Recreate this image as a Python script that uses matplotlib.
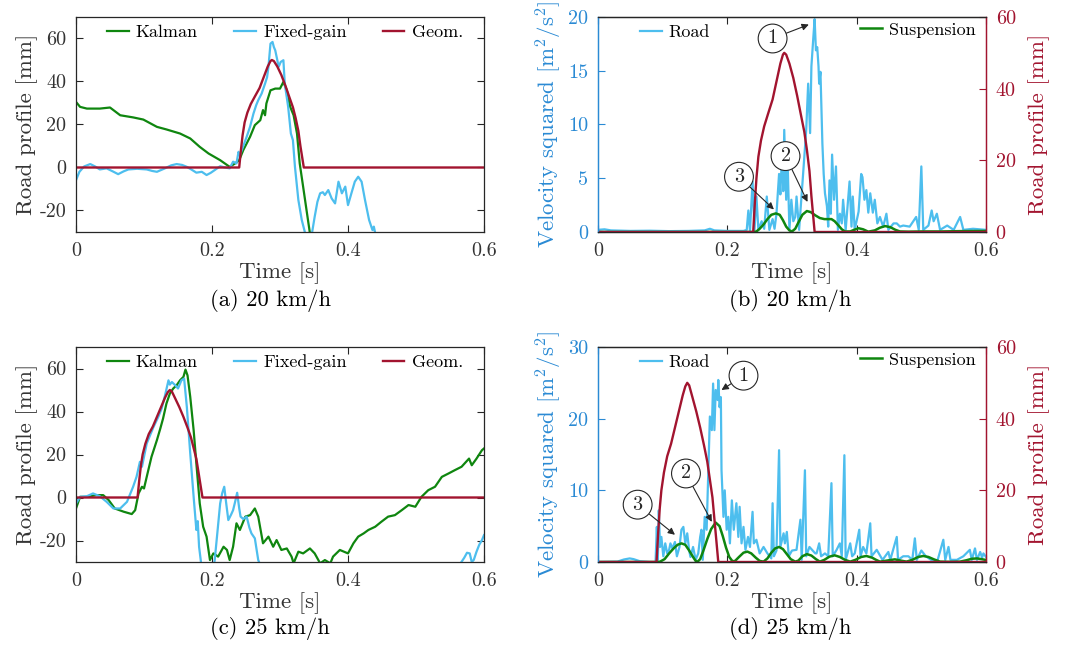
import matplotlib
matplotlib.use('Agg')
import matplotlib.pyplot as plt
import numpy as np

plt.rcParams['font.family'] = ['cmr10', 'DejaVu Serif']
plt.rcParams['mathtext.fontset'] = 'cm'
plt.rcParams['axes.unicode_minus'] = False
plt.rcParams['axes.formatter.use_mathtext'] = True

green = '#0f860f'
blue = '#4dbeee'
red = '#a2142f'
vblue = '#2a8ad4'
dark = '#262626'
txtc = '#333333'
nan = np.nan

# ---------------- data (time [s], value) ----------------
# (a) 20 km/h road profile [mm]
kalman_20 = [(0, 30.5), (0.006, 28.2), (0.016, 27.4), (0.035, 27.4), (0.050, 27.9), (0.065, 24.3),
             (0.084, 23.3), (0.099, 22.3), (0.119, 18.9), (0.133, 17.7), (0.153, 15.8), (0.168, 13.5),
             (0.182, 9.6), (0.195, 6.5), (0.212, 3.4), (0.226, 0.3), (0.234, 1.9), (0.240, 3.4),
             (0.246, 8.1), (0.256, 14.3), (0.263, 19.7), (0.271, 22.0), (0.275, 26.7), (0.278, 24.3),
             (0.280, 29.8), (0.286, 35.9), (0.293, 36.7), (0.300, 36.7), (0.305, 39.8), (0.310, 35.9),
             (0.315, 28.2), (0.320, 24.3), (0.325, 15.8), (0.329, 1.9), (0.334, -8.9), (0.339, -19.8),
             (0.344, -30.6), (0.350, -40)]
fixed_20 = [(0, -5.9), (0.005, -2), (0.012, 0.5), (0.021, 1.6), (0.028, 0.5), (0.035, -0.9), (0.045, -0.4),
            (0.054, -1.8), (0.062, -3.1), (0.070, -1.8), (0.077, -0.9), (0.090, -0.6), (0.104, -0.9),
            (0.112, -1.6), (0.119, -2.0), (0.130, -0.5), (0.140, 1.0), (0.148, 1.6), (0.156, 1.2),
            (0.163, 0.3), (0.170, -1.0), (0.177, -2.4), (0.185, -2.0), (0.192, -3.5), (0.198, -2.5),
            (0.204, -1.2), (0.212, 0.6), (0.219, 0.0), (0.226, -0.4), (0.231, 2.7), (0.236, 1.9),
            (0.239, 7.3), (0.241, 5.8), (0.246, 10), (0.251, 14.3), (0.256, 19), (0.261, 25.1),
            (0.265, 29), (0.268, 31.3), (0.273, 34.4), (0.278, 39), (0.281, 42), (0.283, 46.8),
            (0.286, 57.6), (0.289, 58.4), (0.291, 56), (0.293, 54.5), (0.296, 50), (0.298, 46.8),
            (0.301, 49.1), (0.305, 49.9), (0.307, 39), (0.312, 28.2), (0.316, 15.8), (0.319, 12.7),
            (0.322, 0.3), (0.327, -15.1), (0.332, -24.4), (0.337, -30.6), (0.341, -34), (0.345, -34),
            (0.347, -30.6), (0.351, -22.9), (0.355, -16), (0.359, -12), (0.363, -11.5), (0.366, -12.8),
            (0.371, -10.5), (0.376, -14.4), (0.381, -16.7), (0.386, -6.6), (0.391, -12), (0.396, -8.9),
            (0.400, -17.5), (0.405, -12), (0.410, -6.6), (0.415, -4.3), (0.420, -6.6), (0.425, -15.1),
            (0.431, -24.4), (0.436, -29.1), (0.438, -27.5), (0.441, -32)]
geom_20 = [(0, 0), (0.240, 0), (0.2425, 8), (0.245, 15), (0.248, 21), (0.252, 25.5), (0.257, 29.5),
           (0.263, 33), (0.270, 37), (0.276, 42), (0.282, 47), (0.286, 49.5), (0.288, 50), (0.291, 49.5),
           (0.296, 47), (0.302, 43), (0.308, 38), (0.314, 32.5), (0.319, 28), (0.323, 23), (0.327, 17),
           (0.330, 10), (0.333, 4), (0.335, 0), (0.6, 0)]

# (c) 25 km/h road profile [mm]
kalman_25 = [(0, -5.1), (0.006, 0.3), (0.016, 0.3), (0.030, 1.1), (0.040, 1.1), (0.048, -1.2), (0.057, -5.1),
             (0.070, -6.6), (0.082, -7.7), (0.087, -5.9), (0.092, 1.9), (0.097, 5.0), (0.100, 4.2),
             (0.104, 9.6), (0.111, 18.9), (0.119, 26.7), (0.124, 32.1), (0.128, 36.7), (0.133, 43.7),
             (0.138, 48.3), (0.143, 50.7), (0.148, 52.2), (0.153, 54.5), (0.158, 56.1), (0.161, 59.5),
             (0.164, 56.8), (0.168, 46.8), (0.173, 31.3), (0.177, 15.8), (0.182, -2.8), (0.187, -13.6),
             (0.192, -18.2), (0.197, -29.1), (0.202, -26.0), (0.209, -27.5), (0.217, -22.9), (0.222, -24.4),
             (0.226, -29.1), (0.231, -22.9), (0.236, -12.0), (0.241, -15.1), (0.249, -8.9), (0.256, -8.2),
             (0.263, -5.1), (0.268, -8.9), (0.275, -21.3), (0.283, -18.2), (0.290, -22.9), (0.295, -19.8),
             (0.302, -24.4), (0.310, -23.7), (0.317, -27.5), (0.320, -30.6), (0.327, -25.2), (0.334, -26.0),
             (0.344, -23.7), (0.351, -26.0), (0.359, -30.6), (0.366, -29.1), (0.374, -30.6), (0.378, -27.5),
             (0.388, -24.4), (0.400, -26.0), (0.408, -21.3), (0.415, -18.2), (0.423, -16.7), (0.430, -15.1),
             (0.440, -13.6), (0.449, -11.3), (0.459, -8.9), (0.469, -8.2), (0.479, -5.9), (0.489, -3.5),
             (0.499, -4.3), (0.508, 0.3), (0.518, 3.4), (0.528, 5.0), (0.538, 9.6), (0.548, 11.2),
             (0.557, 12.7), (0.567, 14.3), (0.578, 18.1), (0.582, 15.0), (0.589, 18.1), (0.597, 22.0),
             (0.600, 22.8)]
fixed_25 = [(0, -2.8), (0.006, 0.3), (0.016, 0.6), (0.025, 1.9), (0.035, 0.6), (0.045, -2.0), (0.055, -5.1),
            (0.065, -5.1), (0.075, -2.0), (0.084, 5.0), (0.089, 9.6), (0.094, 16.6), (0.097, 14.3),
            (0.104, 25.1), (0.109, 29), (0.114, 32.8), (0.121, 37.5), (0.126, 41.4), (0.131, 47.6),
            (0.136, 54.5), (0.138, 52.5), (0.141, 53.7), (0.146, 52.2), (0.150, 50.7), (0.155, 54.5),
            (0.159, 55.3), (0.163, 42.1), (0.168, 20.5), (0.173, 0.3), (0.177, -15.1), (0.179, -11),
            (0.181, -22.9), (0.184, -30.6), (0.190, -36), (0.200, -36), (0.204, -29.1), (0.208, -16),
            (0.212, -2.8), (0.215, 2), (0.218, 5.0), (0.221, -3), (0.224, -10.5), (0.228, -8), (0.231, -5.9),
            (0.234, -2), (0.237, 2.2), (0.240, -5), (0.242, -8.9), (0.246, -10), (0.251, -8.9), (0.255, -14),
            (0.258, -16.7), (0.263, -19.0), (0.268, -29.1), (0.271, -31.4), (0.274, -34), (0.4, nan),
            (0.560, -33), (0.567, -29.9), (0.571, -28), (0.575, -25.7), (0.579, -26.0), (0.582, -30.0),
            (0.585, -29), (0.589, -25.2), (0.593, -22), (0.597, -19.8), (0.600, -17.5)]
geom_25 = [(0, 0), (0.0905, 0), (0.093, 8), (0.0955, 15), (0.098, 20), (0.102, 25), (0.107, 29.5),
           (0.113, 33), (0.119, 37.5), (0.125, 42), (0.131, 46.5), (0.135, 49), (0.138, 50), (0.141, 49.3),
           (0.146, 46), (0.152, 42), (0.158, 37.5), (0.164, 32.5), (0.169, 28), (0.173, 23), (0.177, 18),
           (0.180, 12), (0.183, 6), (0.186, 0), (0.6, 0)]

# (b) 20 km/h velocity squared [m^2/s^2]
road_20 = [(0, 0.2), (0.01, 0.25), (0.02, 0.15), (0.05, 0.1), (0.08, 0.12), (0.11, 0.08), (0.14, 0.1),
           (0.165, 0.15), (0.173, 0.3), (0.18, 0.15), (0.2, 0.1), (0.225, 0.1), (0.23, 0.2), (0.2325, 2.0),
           (0.235, 0.1), (0.239, 4.7), (0.242, 0.2), (0.245, 3.3), (0.248, 0.2), (0.253, 1.0), (0.257, 0.3),
           (0.261, 3.3), (0.265, 0.2), (0.270, 1.2), (0.273, 0.3), (0.276, 1.7), (0.280, 5.4), (0.282, 3.5),
           (0.285, 7.9), (0.2865, 3.8), (0.288, 9.5), (0.291, 3.0), (0.293, 7.0), (0.296, 0.2), (0.299, 3.0),
           (0.302, 1.0), (0.305, 1.4), (0.307, 3.3), (0.311, 0.2), (0.318, 6.1), (0.322, 9.5), (0.325, 13.8),
           (0.328, 9.2), (0.330, 15.4), (0.333, 18.1), (0.335, 19.8), (0.337, 16.9), (0.339, 17.2),
           (0.341, 15.4), (0.342, 13.8), (0.344, 14.9), (0.347, 8.2), (0.349, 5.4), (0.351, 3.6),
           (0.354, 2.4), (0.356, 0.5), (0.358, 4.8), (0.360, 1.7), (0.362, 7.2), (0.365, 3.0), (0.368, 6.1),
           (0.371, 0.2), (0.374, 1.7), (0.377, 0.8), (0.379, 3.0), (0.383, 0.2), (0.389, 4.7), (0.392, 0.5),
           (0.394, 3.3), (0.397, 0.2), (0.403, 1.9), (0.407, 5.4), (0.409, 5.1), (0.412, 3.0), (0.415, 3.9),
           (0.418, 1.8), (0.421, 3.6), (0.425, 1.8), (0.428, 3.0), (0.432, 0.8), (0.436, 1.4), (0.441, 0.5),
           (0.446, 1.7), (0.449, 0.2), (0.457, 0.8), (0.462, 0.8), (0.467, 0.5), (0.472, 0.6), (0.482, 0.5),
           (0.492, 1.4), (0.496, 0.2), (0.500, 6.1), (0.503, 0.2), (0.511, 0.6), (0.516, 2.0), (0.519, 1.0),
           (0.524, 1.7), (0.529, 0.2), (0.540, 0.6), (0.550, 0.2), (0.560, 1.4), (0.565, 0.2), (0.580, 0.3),
           (0.6, 0.2)]
susp_20 = [(0, 0), (0.24, 0), (0.245, 0.05), (0.250, 0.3), (0.256, 0.7), (0.262, 1.2), (0.268, 1.6),
           (0.275, 1.73), (0.281, 1.6), (0.286, 1.1), (0.291, 0.5), (0.296, 0.15), (0.300, 0.05),
           (0.305, 0.3), (0.310, 0.9), (0.316, 1.6), (0.323, 1.95), (0.329, 1.85), (0.336, 1.55),
           (0.343, 1.3), (0.350, 1.2), (0.356, 1.2), (0.361, 1.2), (0.366, 1.0), (0.372, 0.6), (0.377, 0.25),
           (0.382, 0.05), (0.390, 0.05), (0.396, 0.2), (0.403, 0.35), (0.410, 0.25), (0.418, 0.03),
           (0.428, 0.15), (0.436, 0.4), (0.444, 0.55), (0.452, 0.45), (0.460, 0.2), (0.467, 0.05),
           (0.480, 0.03), (0.500, 0.05), (0.530, 0.05), (0.560, 0.08), (0.6, 0.1)]

# (d) 25 km/h velocity squared [m^2/s^2]
road_25 = [(0, 0), (0.03, 0.05), (0.04, 0.35), (0.049, 0.5), (0.055, 0.4), (0.065, 0.1), (0.08, 0), (0.089, 0),
           (0.091, 4.9), (0.0925, 0.3), (0.094, 7.2), (0.096, 2.1), (0.098, 3.5), (0.101, 0.8), (0.104, 2.6),
           (0.107, 1.2), (0.110, 1.7), (0.112, 2.6), (0.115, 1.9), (0.119, 2.8), (0.122, 0.8), (0.126, 2.1),
           (0.129, 4.5), (0.132, 4.9), (0.135, 2.6), (0.138, 4.0), (0.141, 1.6), (0.143, 0.7), (0.147, 2.1),
           (0.151, 0.3), (0.155, 1.2), (0.158, 3.5), (0.160, 4.5), (0.162, 0.3), (0.165, 6.3), (0.168, 4.5),
           (0.171, 13.7), (0.173, 20.3), (0.176, 18.4), (0.178, 24.9), (0.180, 18.4), (0.182, 24.0),
           (0.185, 22.6), (0.186, 25.4), (0.188, 21.6), (0.190, 23.0), (0.191, 12.8), (0.194, 6.3),
           (0.196, 10.0), (0.199, 4.5), (0.2015, 6.3), (0.204, 2.6), (0.207, 8.6), (0.210, 4.5), (0.212, 6.3),
           (0.214, 8.2), (0.217, 3.5), (0.219, 7.7), (0.222, 2.6), (0.225, 4.9), (0.228, 1.7), (0.232, 3.5),
           (0.235, 2.1), (0.239, 7.0), (0.241, 2.6), (0.245, 3.1), (0.250, 1.2), (0.256, 2.1), (0.262, 1.2),
           (0.268, 0.5), (0.270, 8.2), (0.272, 0.8), (0.276, 1.6), (0.280, 15.6), (0.282, 2.1), (0.287, 4.0),
           (0.289, 2.6), (0.292, 4.2), (0.295, 0.8), (0.300, 1.6), (0.307, 1.7), (0.313, 5.9), (0.315, 0.3),
           (0.320, 12.8), (0.322, 0.8), (0.327, 2.1), (0.331, 1.7), (0.336, 1.2), (0.338, 1.2), (0.342, 2.6),
           (0.345, 0.8), (0.351, 1.2), (0.356, 0.8), (0.361, 11.0), (0.363, 0.8), (0.369, 1.7), (0.374, 2.6),
           (0.377, 0.8), (0.381, 14.9), (0.383, 0.3), (0.390, 2.6), (0.393, 0.8), (0.397, 1.2), (0.404, 4.5),
           (0.406, 0.8), (0.410, 2.1), (0.415, 1.2), (0.421, 5.4), (0.423, 0.8), (0.431, 1.7), (0.440, 0.3),
           (0.449, 1.4), (0.452, 0.3), (0.462, 3.5), (0.464, 0.3), (0.472, 0.8), (0.480, 0.8), (0.486, 0.3),
           (0.490, 3.3), (0.493, 0.3), (0.500, 1.6), (0.507, 0.8), (0.515, 0.3), (0.525, 0.2), (0.534, 3.1),
           (0.537, 0.3), (0.542, 2.1), (0.545, 0.3), (0.555, 0.3), (0.565, 0.8), (0.575, 1.7), (0.578, 0.3),
           (0.583, 1.9), (0.586, 0.3), (0.591, 1.4), (0.594, 0.6), (0.596, 1.2), (0.6, 0.7)]
susp_25 = [(0, 0), (0.09, 0), (0.096, 0.05), (0.103, 0.4), (0.110, 1.2), (0.117, 1.9), (0.123, 2.4),
           (0.129, 2.6), (0.135, 2.4), (0.141, 1.6), (0.147, 0.7), (0.151, 0.15), (0.154, 0.05), (0.158, 0.4),
           (0.163, 1.6), (0.169, 3.2), (0.175, 4.6), (0.182, 5.5), (0.188, 5.0), (0.193, 3.6), (0.198, 2.0),
           (0.203, 0.7), (0.208, 0.1), (0.212, 0.15), (0.218, 0.7), (0.225, 1.3), (0.231, 1.45), (0.237, 1.2),
           (0.244, 0.6), (0.250, 0.15), (0.256, 0.05), (0.262, 0.5), (0.268, 1.3), (0.274, 1.9), (0.280, 2.1),
           (0.286, 1.8), (0.292, 1.1), (0.298, 0.4), (0.305, 0.05), (0.310, 0.2), (0.316, 0.8), (0.323, 1.1),
           (0.330, 0.9), (0.337, 0.4), (0.343, 0.05), (0.350, 0.3), (0.358, 0.75), (0.366, 0.93), (0.374, 0.7),
           (0.382, 0.3), (0.390, 0.05), (0.398, 0.3), (0.407, 0.7), (0.415, 0.84), (0.424, 0.6), (0.430, 0.3),
           (0.436, 0.05), (0.447, 0.2), (0.459, 0.37), (0.468, 0.2), (0.477, 0.05), (0.486, 0.3), (0.495, 0.7),
           (0.503, 0.84), (0.511, 0.7), (0.520, 0.35), (0.529, 0.05), (0.545, 0.02), (0.560, 0.05),
           (0.570, 0.25), (0.578, 0.45), (0.586, 0.5), (0.593, 0.4), (0.6, 0.28)]

# numbered callouts: label, circle centre (t, v), arrow tip (t, v) in velocity-squared units
notes_20 = [('1', (0.270, 18.0), (0.326, 19.3)), ('2', (0.290, 7.06), (0.324, 2.8)),
            ('3', (0.218, 5.14), (0.272, 2.1))]
notes_25 = [('1', (0.225, 26.0), (0.191, 24.0)), ('2', (0.136, 12.35), (0.176, 5.6)),
            ('3', (0.0613, 8.0), (0.119, 3.8))]

time_ticks = [0, 0.2, 0.4, 0.6]
time_labels = ['0', '0.2', '0.4', '0.6']
profile_ticks = [-20, 0, 20, 40, 60]
profile_labels = ['-20', '0', '20', '40', '60']
right_ticks = [0, 20, 40, 60]
left_ticks_20 = [0, 5, 10, 15, 20]
left_ticks_25 = [0, 10, 20, 30]
captions = ['(a) 20 km/h', '(b) 20 km/h', '(c) 25 km/h', '(d) 25 km/h']

LAB = 16.5
TICK = 14.5
LEG = 13


def xy(pairs):
    a = np.array(pairs, dtype=float)
    return a[:, 0], a[:, 1]


W, H = 1067, 652
fig = plt.figure(figsize=(W / 100, H / 100), dpi=100)


def box(l, t, r, b):
    return [l / W, 1 - b / H, (r - l) / W, (b - t) / H]


def style_time(ax):
    ax.set_xlim(0, 0.6)
    ax.set_xticks(time_ticks)
    ax.set_xticklabels(time_labels)
    ax.set_xlabel('Time [s]', fontsize=LAB, labelpad=2, color=txtc)
    ax.tick_params(direction='in', length=5, width=0.8, labelsize=TICK, pad=7, top=True)


def profile_panel(rect, kal, fix, geo):
    ax = fig.add_axes(rect)
    for s in ax.spines.values():
        s.set_color(dark)
        s.set_linewidth(0.9)
    l1, = ax.plot(*xy(kal), color=green, lw=1.6, label='Kalman')
    l2, = ax.plot(*xy(fix), color=blue, lw=1.6, label='Fixed-gain')
    l3, = ax.plot(*xy(geo), color=red, lw=1.7, label='Geom.')
    ax.set_ylim(-30, 70)
    ax.set_yticks(profile_ticks)
    ax.set_yticklabels(profile_labels)
    ax.set_ylabel('Road profile [mm]', fontsize=LAB, labelpad=1, color=txtc)
    style_time(ax)
    ax.tick_params(right=True, colors=dark, labelcolor=txtc)
    ax.legend(handles=[l1, l2, l3], ncol=3, loc='center left', bbox_to_anchor=(0.076, 0.928),
              frameon=False, fontsize=LEG, handlelength=1.2, handletextpad=0.4, columnspacing=2.0,
              borderpad=0, borderaxespad=0)
    return ax


def velocity_panel(rect, road, susp, geo, ymax, yticks, notes):
    ax = fig.add_axes(rect)
    ax2 = ax.twinx()
    lr, = ax.plot(*xy(road), color=blue, lw=1.6, label='Road')
    ls, = ax.plot(*xy(susp), color=green, lw=1.8, label='Suspension')
    ax2.plot(*xy(geo), color=red, lw=1.7)
    ax.set_ylim(0, ymax)
    ax.set_yticks(yticks)
    ax.set_yticklabels([str(v) for v in yticks])
    ax2.set_ylim(0, 60)
    ax2.set_yticks(right_ticks)
    ax2.set_yticklabels([str(v) for v in right_ticks])
    style_time(ax)
    ax.tick_params(axis='x', colors=dark, labelcolor=txtc)
    ax.tick_params(axis='y', colors=vblue, direction='in', length=5, labelsize=TICK)
    ax2.tick_params(axis='y', colors=red, direction='in', length=5, width=0.8, labelsize=TICK, pad=7)
    for a in (ax, ax2):
        a.spines['top'].set_color(dark)
        a.spines['bottom'].set_color(dark)
        a.spines['left'].set_color(vblue)
        a.spines['right'].set_color(red)
        for s in a.spines.values():
            s.set_linewidth(0.9)
    ax.set_ylabel('Velocity squared [m$^2$/s$^2$]', fontsize=LAB, color=vblue, labelpad=3)
    ax2.set_ylabel('Road profile [mm]', fontsize=LAB, color=red, labelpad=9)
    leg = ax2.legend(handles=[lr], loc='center left', bbox_to_anchor=(0.108, 0.93), frameon=False,
                     fontsize=LEG, handlelength=1.2, handletextpad=0.4, borderpad=0, borderaxespad=0)
    ax2.add_artist(leg)
    ax2.legend(handles=[ls], loc='center left', bbox_to_anchor=(0.675, 0.94), frameon=False,
               fontsize=LEG, handlelength=1.2, handletextpad=0.4, borderpad=0, borderaxespad=0)
    for lab, c, tip in notes:
        ax2.annotate(lab, xy=tip, xytext=c, xycoords=ax.transData, textcoords=ax.transData,
                     ha='center', va='center', fontsize=14.5, color=dark,
                     bbox=dict(boxstyle='circle,pad=0.27', fc='white', ec=dark, lw=0.8),
                     arrowprops=dict(arrowstyle='-|>', color=dark, lw=0.8, mutation_scale=10,
                                     shrinkA=0, shrinkB=0))
    return ax


profile_panel(box(76, 17, 484, 232), kalman_20, fixed_20, geom_20)
velocity_panel(box(598, 17, 986, 232), road_20, susp_20, geom_20, 20, left_ticks_20, notes_20)
profile_panel(box(76, 347, 484, 562), kalman_25, fixed_25, geom_25)
velocity_panel(box(598, 347, 986, 562), road_25, susp_25, geom_25, 30, left_ticks_25, notes_25)

cap_pos = [(270, 300), (790, 300), (270, 628), (790, 628)]
for txt, (cx, cy) in zip(captions, cap_pos):
    fig.text(cx / W, 1 - cy / H, txt, ha='center', va='center', fontsize=16.3, color='black')

fig.savefig('out.png', dpi=100)
